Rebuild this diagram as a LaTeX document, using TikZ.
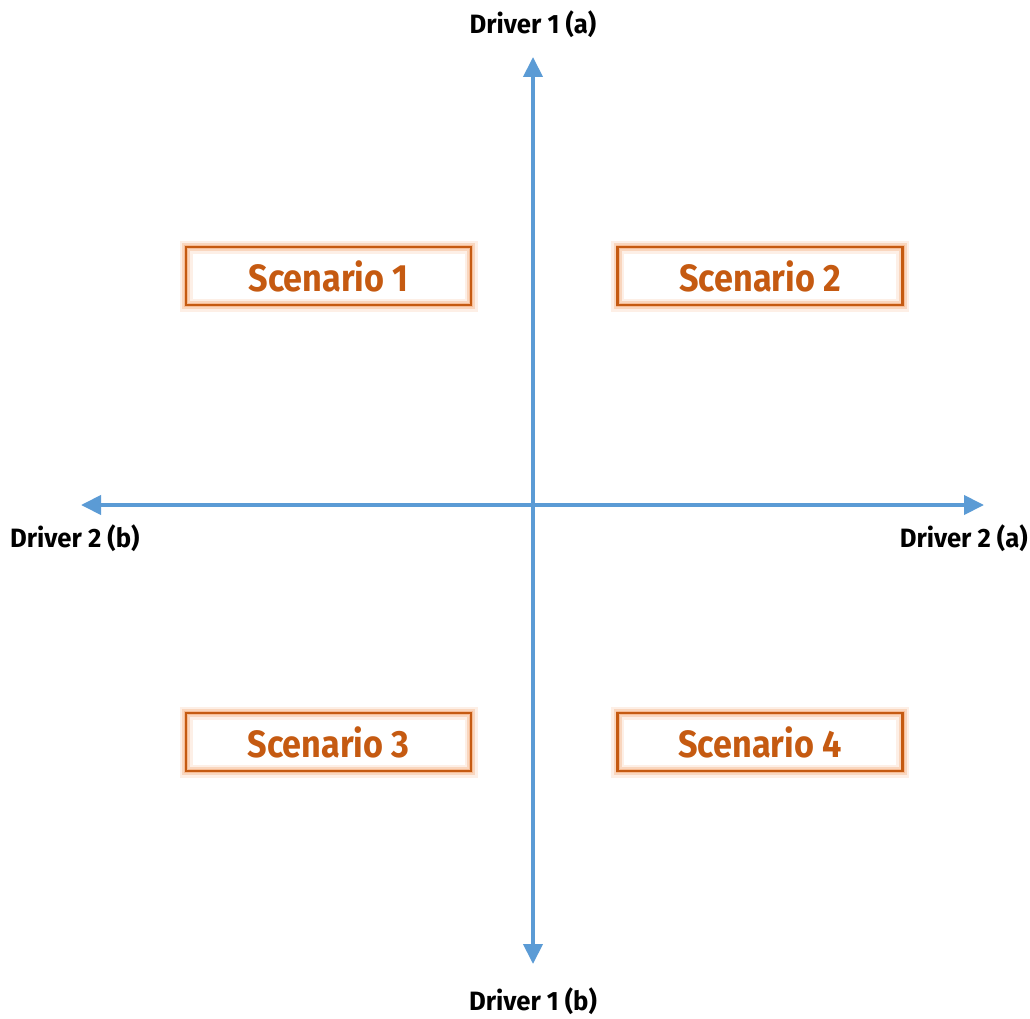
\documentclass[tikz,border=0pt]{standalone}
\usepackage{fontspec}
\setmainfont{Fira Sans}
\newfontfamily\dinfont[FakeStretch=0.9]{Fira Sans}
\newfontfamily\drvfont[FakeStretch=0.97]{Fira Sans}
\usetikzlibrary{arrows.meta}
\definecolor{axisblue}{HTML}{5B9BD5}
\definecolor{scorange}{HTML}{C55A11}
\definecolor{glow}{HTML}{F4B183}
\tikzset{
  axis/.style={draw=axisblue, line width=4pt, -{Triangle[length=20pt,width=19pt]}},
  drv/.style={font=\drvfont\fontsize{26.5}{30}\selectfont\bfseries, text=black, inner sep=0pt},
  scen/.style={minimum width=285pt, minimum height=58pt, inner sep=0pt,
    text=scorange, font=\dinfont\fontsize{38}{42}\selectfont\bfseries,
    preaction={draw=glow, line width=13pt, opacity=0.2},
    postaction={draw=glow, line width=8pt, opacity=0.4},
    postaction={draw=glow, line width=4pt, opacity=0.7},
    postaction={draw=scorange, line width=2.2pt}},
}
\begin{document}
\begin{tikzpicture}[x=1pt,y=-1pt]
\useasboundingbox (0,0) rectangle (1030,1019);
\coordinate (c) at (533,505);
\coordinate (top) at (533,57);
\coordinate (bot) at (533,964);
\coordinate (lft) at (81,505);
\coordinate (rgt) at (984,505);
\draw[axis] (c) -- (top);
\draw[axis] (c) -- (bot);
\draw[axis] (c) -- (lft);
\draw[axis] (c) -- (rgt);
\node[drv] (d1a) at (533,24) {Driver 1 (a)};
\node[drv] (d1b) at (533,1001) {Driver 1 (b)};
\node[drv, anchor=west] (d2b) at (10,538) {Driver 2 (b)};
\node[drv, anchor=east] (d2a) at (1028,538) {Driver 2 (a)};
\node[scen] (s1) at (328.5,276) {Scenario 1};
\node[scen] (s2) at (760,276) {Scenario 2};
\node[scen] (s3) at (328.5,742) {Scenario 3};
\node[scen] (s4) at (760,742) {Scenario 4};
\end{tikzpicture}
\end{document}
